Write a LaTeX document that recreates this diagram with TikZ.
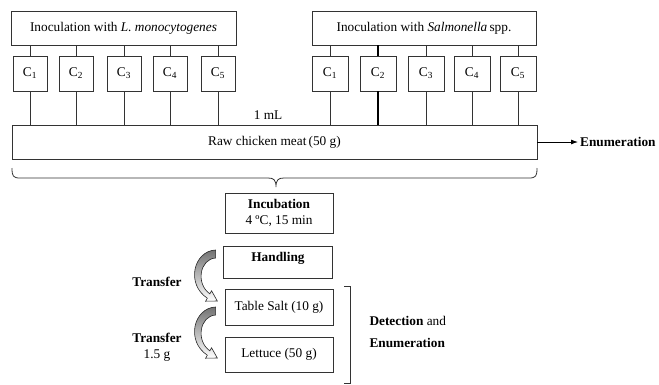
\documentclass[tikz,border=0pt]{standalone}
\usepackage{fontspec}
\setmainfont{Liberation Serif}
\usetikzlibrary{calc,arrows.meta}

\tikzset{
  ln/.style={draw=black!80, line width=0.8pt},
  box/.style={ln, rectangle, inner sep=0pt, align=center},
  cbox/.style={box, minimum width=34pt, minimum height=35pt},
  bigtext/.style={font=\fontsize{13.3}{15.5}\selectfont},
  boldtext/.style={font=\fontsize{13.3}{15.5}\selectfont\bfseries},
  transferarrow/.pic={
    \shade[top color=black!55, bottom color=white, draw=black!85, line width=0.6pt]
      (0,-4) .. controls (-22,-3) and (-30,30) .. (-8.25,44.2)
      -- (-10,47.2) -- (1.7,47) -- (-4,36.8) -- (-5.75,39.8)
      .. controls (-20,30) and (-16,5) .. (0,4) -- cycle;
  }
}

\begin{document}
\begin{tikzpicture}[x=1pt, y=-1pt, bigtext]
\useasboundingbox (0,0) rectangle (659,384);

% inoculation boxes
\node[box, minimum width=225pt, minimum height=34pt] (inocL) at (123.5,28)
  {Inoculation with \textit{L. monocytogenes}};
\node[box, minimum width=224pt, minimum height=34pt] (inocR) at (424,28)
  {Inoculation with \textit{Salmonella}\,spp.};

% raw chicken meat
\node[box, minimum width=525pt, minimum height=34pt] (raw) at (274.5,142)
  {Raw chicken meat\,(50 g)};

% cultures C1..C5 for each pathogen
\foreach \x [count=\i] in {30,76,124,170,218} {
  \node[cbox] (L\i) at (\x,73.5) {C\textsubscript{\i}};
  \draw[ln] (inocL.south -| L\i) -- (L\i.north);
  \draw[ln] (L\i.south) -- (L\i.south |- raw.north);
}
\foreach \x [count=\i] in {330,378,426,472,518} {
  \node[cbox, minimum width=36pt] (R\i) at (\x,73.5) {C\textsubscript{\i}};
}
\foreach \i in {1,3,4,5} {
  \draw[ln] (inocR.south -| R\i) -- (R\i.north);
  \draw[ln] (R\i.south) -- (R\i.south |- raw.north);
}
\draw[ln, line width=1.6pt, draw=black] (inocR.south -| R2) -- (R2.north);
\draw[ln, line width=1.6pt, draw=black] (R2.south) -- (R2.south |- raw.north);

\node (ml) at (268,115) {1 mL};

% enumeration of the meat
\node[anchor=west, boldtext, inner sep=2pt] (enum) at (578,142) {Enumeration};
\draw[ln, draw=black, -{Latex[length=7pt,width=5pt]}] (raw.east) -- (enum.west);

% brace under the meat box
\draw[ln] (12,168) .. controls (12,176) and (13,178) .. (20,178) -- (268,178)
  .. controls (274,178) and (276,180) .. (276,187)
  .. controls (276,180) and (278,178) .. (284,178) -- (529,178)
  .. controls (536,178) and (537,176) .. (537,168);

% incubation and handling
\node[box, minimum width=108pt, minimum height=40pt] (incub) at (279,213)
  {\textbf{Incubation}\\[1pt]4 ºC, 15 min};
\node[box, minimum width=109pt, minimum height=32pt] (handling) at (278,262) {};
\node[boldtext] (handlingtxt) at ($(handling)+(0,-4)$) {Handling};

% recipient foods
\node[box, minimum width=108pt, minimum height=36pt] (salt) at (279,307) {Table Salt (10 g)};
\node[box, minimum width=108pt, minimum height=35pt] (lettuce) at (279,354.5) {Lettuce (50 g)};

% transfer arrows
\pic at ($(handling.west)+(-7.5,-8)$) {transferarrow};
\pic at ($(salt.west)+(-9,4)$) {transferarrow};
\node[boldtext] (t1) at (157,282) {Transfer};
\node[align=center] (t2) at (157,347) {\textbf{Transfer}\\1.5 g};

% detection bracket
\draw[ln] (344,286) -- (350,286) -- (350,383) -- (344,383);
\node[anchor=west, align=left] (det) at (366,332)
  {\textbf{Detection} and\\[6pt]\textbf{Enumeration}};
\end{tikzpicture}
\end{document}
